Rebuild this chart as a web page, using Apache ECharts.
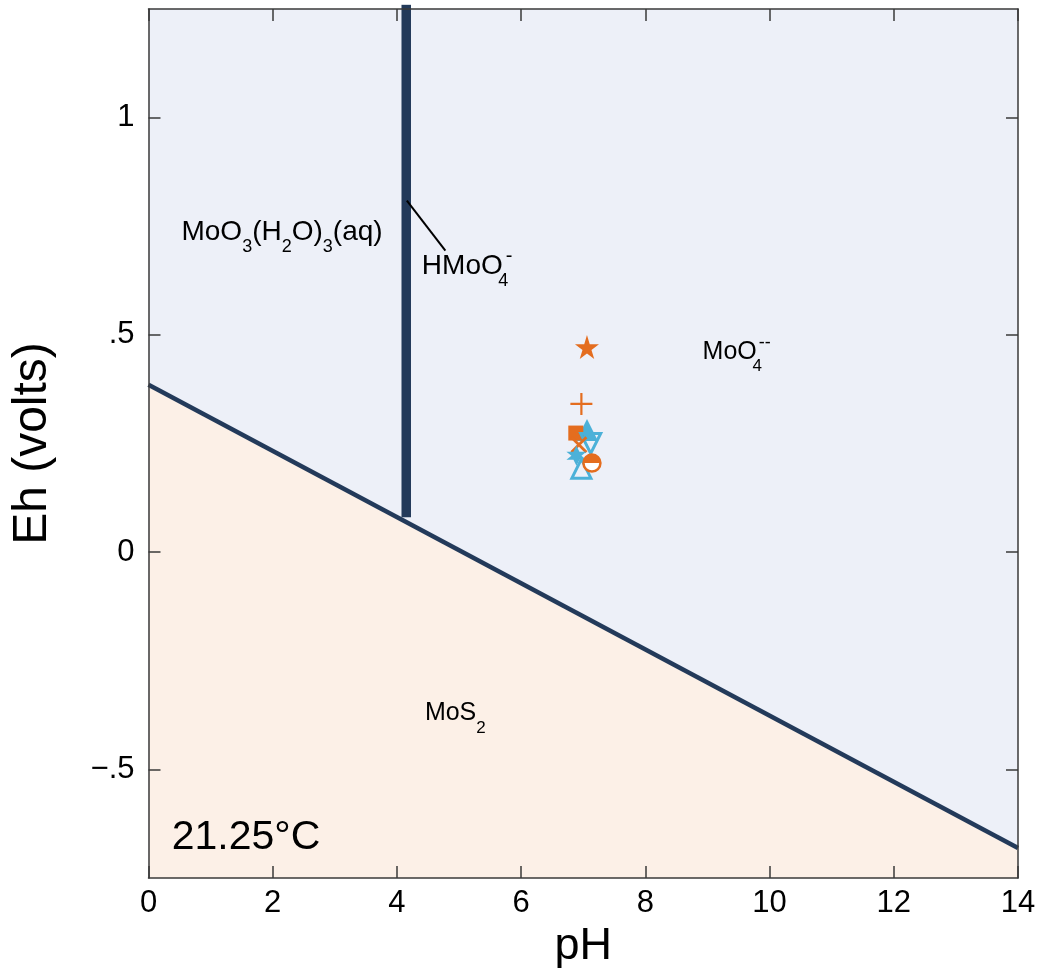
<!DOCTYPE html>
<html>
<head>
<meta charset="utf-8">
<title>Eh-pH diagram</title>
<script src="https://cdn.jsdelivr.net/npm/echarts@6/dist/echarts.min.js"></script>
<style>
    html, body { margin: 0; padding: 0; background: #fff; }
    #chart { width: 1037px; height: 968px; }
</style>
</head>
<body>
<div id="chart"></div>
<script>
// pH axis ticks and Eh ticks
const phTicks = [0, 2, 4, 6, 8, 10, 12, 14]
const ehTicks = [-0.5, 0, 0.5, 1]

// MoS2 / MoO4-- boundary (pH, Eh)
const boundaryPH = [0, 14]
const boundaryEh = [0.385, -0.681]

// MoO3(H2O)3 / HMoO4- boundary
const acidPH = [4.15, 4.15]
const acidEh = [0.08, 1.26]

// sample points
const starPts = [[7.06, 0.472]]
const plusPts = [[6.97, 0.341]]
const squarePts = [[6.88, 0.274]]
const crossPts = [[6.93, 0.247]]
const halfCirclePts = [[7.14, 0.205]]
const triUpFilledPts = [[7.06, 0.281]]
const triUpPts = [[6.97, 0.192]]
const triDownPts = [[7.12, 0.25]]
const hexPts = [[6.89, 0.222]]

// region labels: [pH, Eh, text]
const regionLabels = [
    [2.15, 0.735, '{m|MoO}{s|3}{m|(H}{s|2}{m|O)}{s|3}{m|(aq)}'],
    [5.13, 0.657, '{m|HMoO}{s4|4}{p|-}'],
    [9.47, 0.461, '{n|MoO}{s4n|4}{pn|--}'],
    [4.94, -0.371, '{n|MoS}{sn|2}'],
    [1.57, -0.657, '{t|21.25°C}']
]
const leaderPH = [4.16, 4.78]
const leaderEh = [0.809, 0.694]

const FONT = "'Liberation Sans', Arial, sans-serif"
const navy = '#233a5a'
const orange = '#e46d1f'
const cyan = '#4cb1d8'
const axisGrey = '#3a3a3a'
const ink = '#000'

const chart = echarts.init(document.getElementById('chart'))

function zip(xs, ys) {
    return xs.map((x, i) => [x, ys[i]])
}

function initChart() {
    const main = (size) => ({ fontSize: size, lineHeight: 30, verticalAlign: 'middle', fontFamily: FONT, color: ink })
    const sub = (size) => ({ fontSize: size, lineHeight: 46, verticalAlign: 'bottom', fontFamily: FONT, color: ink })
    const sup = (size) => ({ fontSize: size, lineHeight: 46, verticalAlign: 'top', fontFamily: FONT, color: ink })
    const rich = {
        m: main(28),
        s: sub(18),
        s4: Object.assign(sub(18), { width: 1, align: 'left' }),
        p: Object.assign(sup(20), { padding: [3, 0, 0, 2] }),
        n: main(25),
        sn: sub(17),
        s4n: Object.assign(sub(17), { width: 1, align: 'left' }),
        pn: Object.assign(sup(18), { padding: [5, 0, 0, 1] }),
        t: { fontSize: 41, lineHeight: 44, fontFamily: FONT, color: ink }
    }

    const scatter = (name, pts, symbol, size, style) => ({
        name: name,
        type: 'scatter',
        data: pts,
        symbol: symbol,
        symbolSize: size,
        itemStyle: Object.assign({ opacity: 1 }, style),
        silent: true,
        z: 5
    })

    const axisLine = { show: true, onZero: false, lineStyle: { color: axisGrey, width: 1.5 } }
    const tick = { inside: true, length: 12, lineStyle: { color: axisGrey, width: 1.5 } }

    const option = {
        animation: false,
        grid: { left: 148.5, right: 19, top: 9, bottom: 90, outerBoundsMode: 'none', containLabel: false },
        xAxis: [
            {
                type: 'value', min: 0, max: 14, interval: 2, z: 10,
                name: 'pH', nameLocation: 'middle', nameGap: 46,
                nameTextStyle: { fontSize: 45, fontFamily: FONT, color: ink },
                axisLine: axisLine,
                axisTick: tick,
                axisLabel: { fontSize: 31, fontFamily: FONT, color: ink, margin: 10 },
                splitLine: { show: false }
            },
            {
                type: 'value', position: 'top', min: 0, max: 14, interval: 2, z: 10,
                axisLine: axisLine,
                axisTick: tick,
                axisLabel: { show: false },
                splitLine: { show: false }
            }
        ],
        yAxis: [
            {
                type: 'value', min: -0.75, max: 1.25, z: 10,
                name: 'Eh (volts)', nameLocation: 'middle', nameGap: 92,
                nameTextStyle: { fontSize: 48, fontFamily: FONT, color: ink },
                axisLine: axisLine,
                axisTick: Object.assign({ customValues: ehTicks }, tick),
                axisLabel: {
                    fontSize: 31, fontFamily: FONT, color: ink, margin: 14,
                    customValues: ehTicks,
                    formatter: v => {
                        if (v === 0 || v === 1) return String(v)
                        return (v < 0 ? '\u2212' : '') + String(Math.abs(v)).replace(/^0/, '')
                    }
                },
                splitLine: { show: false }
            },
            {
                type: 'value', position: 'right', min: -0.75, max: 1.25, z: 10,
                axisLine: axisLine,
                axisTick: Object.assign({ customValues: ehTicks }, tick),
                axisLabel: { show: false },
                splitLine: { show: false }
            }
        ],
        series: [
            // upper field background
            {
                type: 'line',
                data: [[0, 1.25], [14, 1.25]],
                symbol: 'none',
                lineStyle: { width: 0 },
                areaStyle: { color: '#edf0f8', origin: 'start', opacity: 1 },
                silent: true,
                z: 1
            },
            {
                name: 'MoS2 boundary',
                type: 'line',
                data: zip(boundaryPH, boundaryEh),
                symbol: 'none',
                lineStyle: { color: navy, width: 4.5 },
                areaStyle: { color: '#fcf0e7', origin: 'start', opacity: 1 },
                silent: true,
                z: 2
            },
            {
                name: 'HMoO4 boundary',
                type: 'line',
                data: zip(acidPH, acidEh),
                symbol: 'none',
                lineStyle: { color: navy, width: 9.5, cap: 'butt' },
                silent: true,
                z: 3
            },
            {
                type: 'line',
                data: zip(leaderPH, leaderEh),
                symbol: 'none',
                lineStyle: { color: ink, width: 2 },
                silent: true,
                z: 4
            },
            scatter('star', starPts, 'path://M50,0 L61,35 L98,35 L68,57 L79,91 L50,70 L21,91 L32,57 L2,35 L39,35 Z', 24, { color: orange }),
            scatter('plus', plusPts, 'path://M10,0 L10,20 M0,10 L20,10', 22, { color: 'none', borderColor: orange, borderWidth: 2.2 }),
            scatter('triUpFilled', triUpFilledPts, 'triangle', 22, { color: cyan }),
            scatter('square', squarePts, 'rect', 15, { color: orange }),
            scatter('triDown', triDownPts, 'path://M0,0 L20,0 L10,17 Z', 20, { color: 'none', borderColor: cyan, borderWidth: 3 }),
            scatter('cross', crossPts, 'path://M0,0 L20,20 M20,0 L0,20', 15, { color: 'none', borderColor: orange, borderWidth: 2.8 }),
            scatter('hex', hexPts, 'path://M10,0 L13,6 L20,6 L15,10 L20,14 L13,14 L10,20 L7,14 L0,14 L5,10 L0,6 L7,6 Z', 20, { color: cyan }),
            scatter('triUp', triUpPts, 'path://M10,0 L20,17 L0,17 Z', 19, { color: 'none', borderColor: cyan, borderWidth: 3 }),
            scatter('halfCircle', halfCirclePts, 'circle', 17, { color: '#fff', borderColor: orange, borderWidth: 2.5 }),
            {
                name: 'halfCircleTop',
                type: 'scatter',
                data: halfCirclePts,
                symbol: 'path://M0,10 A10,10 0 0 1 20,10 Z',
                symbolSize: [17, 8.5],
                symbolOffset: [0, -4.25],
                itemStyle: { color: orange, opacity: 1 },
                silent: true,
                z: 6
            },
            {
                name: 'labels',
                type: 'scatter',
                data: regionLabels.map(d => ({ value: [d[0], d[1]], text: d[2] })),
                symbolSize: 0,
                itemStyle: { opacity: 1 },
                silent: true,
                z: 8,
                label: {
                    show: true,
                    position: 'inside',
                    align: 'center',
                    verticalAlign: 'middle',
                    formatter: p => p.data.text,
                    rich: rich
                }
            }
        ]
    }

    chart.setOption(option)
}

function handleResize() {
    chart.resize()
}

initChart()
window.addEventListener('resize', handleResize)
</script>
</body>
</html>
